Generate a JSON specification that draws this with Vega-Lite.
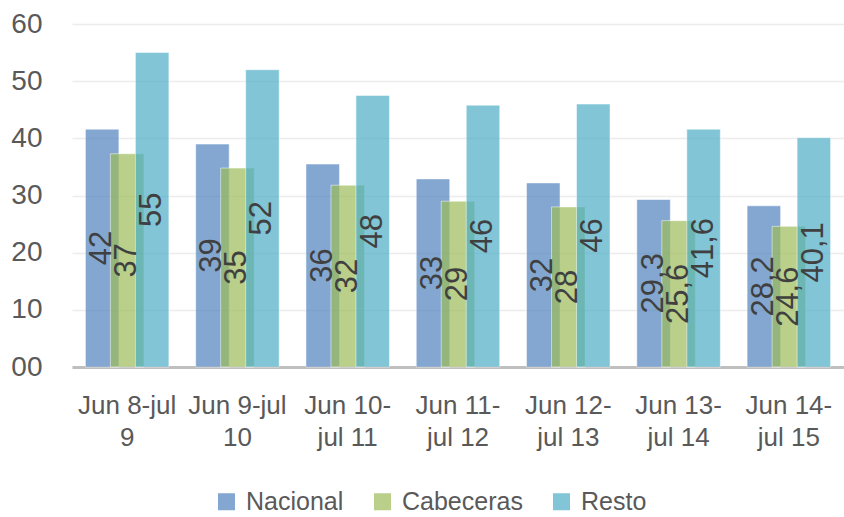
{
  "$schema": "https://vega.github.io/schema/vega-lite/v6.json",
  "width": 772,
  "height": 343,
  "autosize": {"type": "none"},
  "padding": {"left": 72, "top": 24, "right": 0, "bottom": 150},
  "background": "white",
  "config": {"view": {"stroke": null}, "font": "Liberation Sans Narrow, Arial Narrow, Liberation Sans, sans-serif"},
  "data": {"values": [
    {"periodo": "Jun 8-jul 9", "serie": "Nacional", "valor": 41.6, "etiqueta": "42"},
    {"periodo": "Jun 8-jul 9", "serie": "Cabeceras", "valor": 37.3, "etiqueta": "37"},
    {"periodo": "Jun 8-jul 9", "serie": "Resto", "valor": 55.0, "etiqueta": "55"},
    {"periodo": "Jun 9-jul 10", "serie": "Nacional", "valor": 39.0, "etiqueta": "39"},
    {"periodo": "Jun 9-jul 10", "serie": "Cabeceras", "valor": 34.8, "etiqueta": "35"},
    {"periodo": "Jun 9-jul 10", "serie": "Resto", "valor": 52.0, "etiqueta": "52"},
    {"periodo": "Jun 10-jul 11", "serie": "Nacional", "valor": 35.5, "etiqueta": "36"},
    {"periodo": "Jun 10-jul 11", "serie": "Cabeceras", "valor": 31.8, "etiqueta": "32"},
    {"periodo": "Jun 10-jul 11", "serie": "Resto", "valor": 47.5, "etiqueta": "48"},
    {"periodo": "Jun 11-jul 12", "serie": "Nacional", "valor": 32.9, "etiqueta": "33"},
    {"periodo": "Jun 11-jul 12", "serie": "Cabeceras", "valor": 29.0, "etiqueta": "29"},
    {"periodo": "Jun 11-jul 12", "serie": "Resto", "valor": 45.8, "etiqueta": "46"},
    {"periodo": "Jun 12-jul 13", "serie": "Nacional", "valor": 32.2, "etiqueta": "32"},
    {"periodo": "Jun 12-jul 13", "serie": "Cabeceras", "valor": 28.0, "etiqueta": "28"},
    {"periodo": "Jun 12-jul 13", "serie": "Resto", "valor": 46.0, "etiqueta": "46"},
    {"periodo": "Jun 13-jul 14", "serie": "Nacional", "valor": 29.3, "etiqueta": "29,3"},
    {"periodo": "Jun 13-jul 14", "serie": "Cabeceras", "valor": 25.6, "etiqueta": "25,6"},
    {"periodo": "Jun 13-jul 14", "serie": "Resto", "valor": 41.6, "etiqueta": "41,6"},
    {"periodo": "Jun 14-jul 15", "serie": "Nacional", "valor": 28.2, "etiqueta": "28,2"},
    {"periodo": "Jun 14-jul 15", "serie": "Cabeceras", "valor": 24.6, "etiqueta": "24,6"},
    {"periodo": "Jun 14-jul 15", "serie": "Resto", "valor": 40.1, "etiqueta": "40,1"}
  ]},
  "encoding": {
    "x": {
      "field": "periodo", "type": "nominal", "sort": null,
      "scale": {"paddingInner": 0.32, "paddingOuter": 0.16},
      "axis": {
        "title": null, "labelAngle": 0, "ticks": false,
        "domainColor": "#bfbfbf", "domainWidth": 3,
        "labelFontSize": 26, "labelColor": "#595959",
        "labelPadding": 25, "labelLineHeight": 32, "labelBaseline": "top",
        "labelLimit": 0, "labelOverlap": false,
        "labelExpr": "datum.value == 'Jun 8-jul 9' ? ['Jun 8-jul', '9'] : datum.value == 'Jun 9-jul 10' ? ['Jun 9-jul', '10'] : split(replace(datum.value, '-', '-|'), '|')"
      }
    },
    "xOffset": {"field": "serie", "type": "nominal", "sort": ["Nacional", "Cabeceras", "Resto"], "scale": {"paddingInner": 0, "paddingOuter": 0}}
  },
  "layer": [
    {
      "mark": {"type": "bar", "width": 33.5, "fillOpacity": 0.7, "stroke": "#ffffff", "strokeOpacity": 0.5, "strokeWidth": 1},
      "encoding": {
        "y": {
          "field": "valor", "type": "quantitative",
          "scale": {"domain": [0, 60]},
          "axis": {
            "title": null, "values": [0, 10, 20, 30, 40, 50, 60],
            "labelExpr": "datum.value == 0 ? '00' : datum.label",
            "domain": false, "ticks": false, "labelPadding": 30,
            "labelFontSize": 28, "labelColor": "#595959",
            "gridColor": "#ececec", "gridWidth": 1.5
          }
        },
        "color": {
          "field": "serie", "type": "nominal",
          "scale": {"domain": ["Nacional", "Cabeceras", "Resto"], "range": ["#4F81BD", "#9BBB59", "#4BACC6"]},
          "legend": {
            "orient": "none", "legendX": 142, "legendY": 465, "direction": "horizontal", "title": null,
            "symbolType": "square", "symbolSize": 289, "symbolOpacity": 0.7, "symbolStrokeWidth": 0,
            "labelFontSize": 25, "labelColor": "#595959", "columnPadding": 26, "labelOffset": 7
          }
        }
      }
    },
    {
      "mark": {"type": "text", "angle": 270, "align": "center", "baseline": "middle", "fontSize": 31, "color": "#404040"},
      "encoding": {
        "y": {"field": "valor", "type": "quantitative", "scale": {"domain": [0, 120]}, "axis": null},
        "text": {"field": "etiqueta", "type": "nominal"}
      }
    }
  ],
  "resolve": {"scale": {"y": "independent"}}
}
